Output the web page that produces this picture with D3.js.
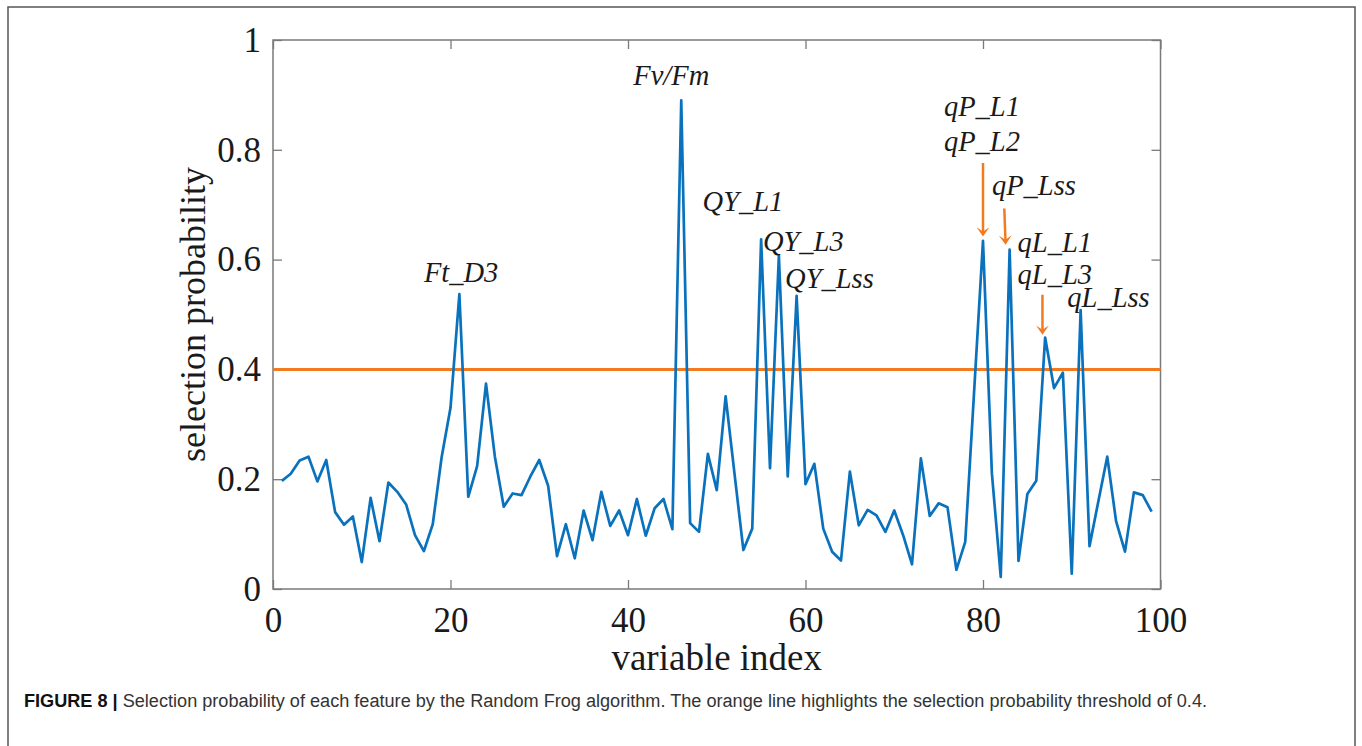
<!DOCTYPE html>
<html>
<head>
<meta charset="utf-8">
<script src="https://cdn.jsdelivr.net/npm/d3@7"></script>
<style>
  body { margin: 0; background: #fff; }
  svg { display: block; }
</style>
</head>
<body>
<div id="chart"></div>
<script>
// selection probability of variables 1..99
var probs = [0.197, 0.21, 0.234, 0.241, 0.196, 0.235, 0.14, 0.117, 0.132, 0.049,
  0.166, 0.087, 0.194, 0.177, 0.154, 0.098, 0.069, 0.118, 0.24, 0.33,
  0.537, 0.168, 0.224, 0.374, 0.241, 0.15, 0.174, 0.171, 0.205, 0.235,
  0.188, 0.06, 0.118, 0.056, 0.143, 0.089, 0.177, 0.115, 0.143, 0.098,
  0.164, 0.097, 0.147, 0.164, 0.109, 0.89, 0.12, 0.104, 0.246, 0.18,
  0.351, 0.21, 0.071, 0.11, 0.637, 0.22, 0.607, 0.205, 0.534, 0.191,
  0.228, 0.11, 0.068, 0.052, 0.214, 0.116, 0.144, 0.134, 0.104, 0.143,
  0.098, 0.045, 0.238, 0.133, 0.156, 0.149, 0.035, 0.086, 0.36, 0.634,
  0.211, 0.022, 0.618, 0.051, 0.173, 0.197, 0.458, 0.366, 0.394, 0.028,
  0.508, 0.078, 0.16, 0.241, 0.123, 0.068, 0.176, 0.171, 0.141];
var threshold = 0.4;

var xTicks = [0, 20, 40, 60, 80, 100];
var yTicks = [0, 0.2, 0.4, 0.6, 0.8, 1];

// annotation labels: text, x (index units), y (probability units) of baseline start
var labelNames = ["Ft_D3", "Fv/Fm", "QY_L1", "QY_L3", "QY_Lss", "qP_L1", "qP_L2", "qP_Lss", "qL_L1", "qL_L3", "qL_Lss"];
var labelX = [17.0, 40.6, 48.4, 55.2, 57.7, 75.6, 75.6, 81.0, 83.9, 83.9, 89.5];
var labelY = [0.56, 0.918, 0.689, 0.616, 0.548, 0.862, 0.798, 0.718, 0.614, 0.555, 0.514];

// orange arrows: from (x1,y1) to tip (x2,y2)
var arrowX1 = [80.0, 82.4, 86.7];
var arrowY1 = [0.776, 0.693, 0.536];
var arrowX2 = [80.0, 82.55, 86.7];
var arrowY2 = [0.642, 0.627, 0.463];

var width = 1362, height = 746;
var blue = "#0a72bd", orange = "#f47a1f";

var svg = d3.select("#chart").append("svg")
    .attr("width", width)
    .attr("height", height);

svg.append("rect").attr("width", width).attr("height", height).attr("fill", "#fff");

// outer figure frame (open at the bottom)
svg.append("rect")
    .attr("x", 8).attr("y", 7)
    .attr("width", 1347).attr("height", 800)
    .attr("fill", "none")
    .attr("stroke", "#555")
    .attr("stroke-width", 1.5);

var x = d3.scaleLinear().domain([0, 100]).range([273, 1160.5]);
var y = d3.scaleLinear().domain([0, 1]).range([589, 40]);

var serif = "'Liberation Serif', 'Times New Roman', serif";
var fmt = d3.format(".1~f");

var gx = svg.append("g")
    .attr("transform", "translate(0," + y(0) + ")")
    .call(d3.axisBottom(x).tickValues(xTicks).tickSize(-9).tickSizeOuter(0).tickFormat(d3.format("d")));
gx.selectAll("text").attr("y", 43).attr("dy", 0);

var gxt = svg.append("g")
    .attr("transform", "translate(0," + y(1) + ")")
    .call(d3.axisTop(x).tickValues(xTicks).tickSize(-9).tickSizeOuter(0).tickFormat(""));

var gy = svg.append("g")
    .attr("transform", "translate(" + x(0) + ",0)")
    .call(d3.axisLeft(y).tickValues(yTicks).tickSize(-9).tickSizeOuter(0).tickPadding(12).tickFormat(fmt));

var gyr = svg.append("g")
    .attr("transform", "translate(" + x(100) + ",0)")
    .call(d3.axisRight(y).tickValues(yTicks).tickSize(-9).tickSizeOuter(0).tickFormat(""));

[gx, gxt, gy, gyr].forEach(function(g) {
    g.select(".domain").remove();
    g.selectAll("line").attr("stroke", "#7a7a7a").attr("stroke-width", 1.3);
    g.selectAll("text")
        .attr("fill", "#1a1a1a")
        .style("font-family", serif)
        .style("font-size", "35px");
});

svg.append("rect")
    .attr("x", x(0)).attr("y", y(1))
    .attr("width", x(100) - x(0)).attr("height", y(0) - y(1))
    .attr("fill", "none")
    .attr("stroke", "#7a7a7a")
    .attr("stroke-width", 1.5);

// threshold line
svg.append("line")
    .attr("x1", x(0)).attr("x2", x(100))
    .attr("y1", y(threshold)).attr("y2", y(threshold))
    .attr("stroke", orange)
    .attr("stroke-width", 3);

// probability line
svg.append("path")
    .datum(probs)
    .attr("fill", "none")
    .attr("stroke", blue)
    .attr("stroke-width", 2.7)
    .attr("stroke-linejoin", "round")
    .attr("d", d3.line()
        .x(function(d, i) { return x(i + 1); })
        .y(function(d) { return y(d); }));

// arrows
arrowX1.forEach(function(v, i) {
    var x1 = x(v), y1 = y(arrowY1[i]), x2 = x(arrowX2[i]), y2 = y(arrowY2[i]);
    var ang = Math.atan2(y2 - y1, x2 - x1);
    var g = svg.append("g");
    var len = 9;
    g.append("line")
        .attr("x1", x1).attr("y1", y1)
        .attr("x2", x2 - Math.cos(ang) * 3).attr("y2", y2 - Math.sin(ang) * 3)
        .attr("stroke", orange).attr("stroke-width", 2.5);
    var p = function(a, r) { return [x2 + Math.cos(a) * r, y2 + Math.sin(a) * r]; };
    var b1 = p(ang + Math.PI - 0.6, len * 1.25), b2 = p(ang + Math.PI + 0.6, len * 1.25), bm = p(ang + Math.PI, len * 0.55);
    g.append("path")
        .attr("d", "M" + x2 + "," + y2 + "L" + b1 + "L" + bm + "L" + b2 + "Z")
        .attr("fill", orange);
});

// annotation labels
labelNames.forEach(function(t, i) {
    svg.append("text")
        .attr("x", x(labelX[i]))
        .attr("y", y(labelY[i]))
        .attr("fill", "#1a1a1a")
        .style("font-family", serif)
        .style("font-style", "italic")
        .style("font-size", "28.5px")
        .text(t);
});

// axis titles
svg.append("text")
    .attr("x", (x(0) + x(100)) / 2)
    .attr("y", 670)
    .attr("text-anchor", "middle")
    .attr("fill", "#1a1a1a")
    .style("font-family", serif)
    .style("font-size", "37px")
    .text("variable index");

svg.append("text")
    .attr("transform", "translate(205," + (y(0) + y(1)) / 2 + ") rotate(-90)")
    .attr("text-anchor", "middle")
    .attr("fill", "#1a1a1a")
    .style("font-family", serif)
    .style("font-size", "36px")
    .text("selection probability");

// caption
var cap = svg.append("text")
    .attr("x", 24)
    .attr("y", 707)
    .attr("fill", "#333")
    .style("font-family", "'Liberation Sans', Arial, sans-serif")
    .style("font-size", "18px")
    .attr("textLength", 1183)
    .attr("lengthAdjust", "spacingAndGlyphs");
cap.append("tspan").style("font-weight", "bold").attr("fill", "#111").text("FIGURE 8 | ");
cap.append("tspan").text("Selection probability of each feature by the Random Frog algorithm. The orange line highlights the selection probability threshold of 0.4.");
</script>
</body>
</html>
